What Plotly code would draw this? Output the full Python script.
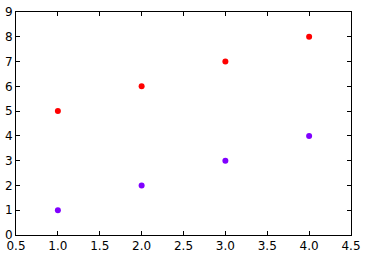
import plotly.graph_objects as go

x_vals = [1, 2, 3, 4]
red_y = [5, 6, 7, 8]
purple_y = [1, 2, 3, 4]
x_ticks = [0.5, 1.0, 1.5, 2.0, 2.5, 3.0, 3.5, 4.0, 4.5]
y_ticks = [0, 1, 2, 3, 4, 5, 6, 7, 8, 9]

fig = go.Figure()
fig.add_trace(go.Scatter(x=x_vals, y=purple_y, mode="markers",
                         marker=dict(color="#8000ff", size=6, line=dict(width=0))))
fig.add_trace(go.Scatter(x=x_vals, y=red_y, mode="markers",
                         marker=dict(color="#ff0000", size=6, line=dict(width=0))))

axis_common = dict(showline=True, linecolor="black", linewidth=1, mirror="ticks",
                   ticks="inside", ticklen=4, tickcolor="black", tickwidth=1,
                   showgrid=False, zeroline=False, automargin=False,
                   tickfont=dict(family="DejaVu Sans", size=12, color="black"))
fig.update_xaxes(range=[0.5, 4.5], tickvals=x_ticks,
                 ticktext=[f"{v:.1f}" for v in x_ticks], **axis_common)
fig.update_yaxes(range=[0, 9], tickvals=y_ticks,
                 ticktext=[str(v) for v in y_ticks], **axis_common)
fig.update_layout(width=365, height=256, margin=dict(l=16, r=14, t=12, b=21),
                  showlegend=False, plot_bgcolor="white", paper_bgcolor="white")
fig.write_html("out.html")
